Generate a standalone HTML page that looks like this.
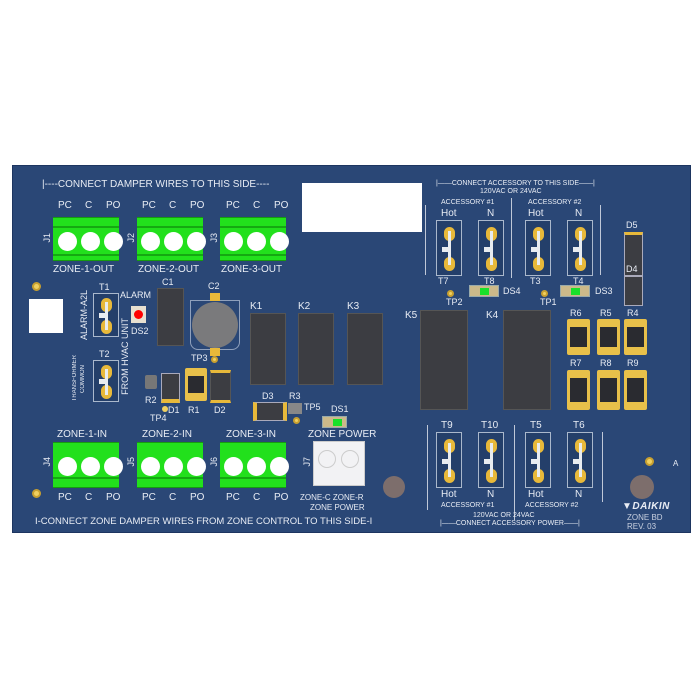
<!DOCTYPE html>
<html><head><meta charset="utf-8"><style>
*{margin:0;padding:0;box-sizing:border-box}
body{width:700px;height:700px;background:#fff;position:relative;overflow:hidden;font-family:"Liberation Sans",sans-serif}
.a{position:absolute}
#board{left:12px;top:165px;width:679px;height:368px;background:#2a4776;border:1px solid #1d3560}
.t{position:absolute;color:#e8ecf4;font-size:10px;white-space:nowrap;line-height:1}
.s{font-size:7px}
.v{writing-mode:vertical-rl;transform:rotate(180deg)}
.tb{position:absolute;width:66px;height:44px;background:#22e01c;border-top:1px solid #169a10;border-bottom:1px solid #169a10}
.tb i{position:absolute;width:19px;height:19px;border-radius:50%;background:#fff;top:14px}
.tb b{position:absolute;left:0;right:0;height:2px;background:#15a812}
.jp{position:absolute;width:26px;height:56px;border:1px solid #aab8cc;background:#243f6a}
.jp i{position:absolute;left:7px;width:11px;height:14px;border-radius:6px;background:#e8b93a}
.jp u{position:absolute;left:11px;top:10px;width:3px;height:34px;background:#e8ecf0}
.jp s{position:absolute;left:5px;top:26px;width:8px;height:5px;background:#e8ecf0}
.dk{position:absolute;background:#3c3d42;border:1px solid #555}
.rs{position:absolute;width:23px;height:42px;background:#e8c04a;border-radius:2px}
.rs:after{content:"";position:absolute;left:3px;right:3px;top:8px;bottom:8px;background:#2a2b30}
.dot{position:absolute;width:9px;height:9px;border-radius:50%;background:#f0d060;border:2px solid #c8a030}
.led{position:absolute;width:30px;height:12px;background:#cbb98a;border:1px solid #9aa}
.led:after{content:"";position:absolute;left:10px;top:2px;width:9px;height:7px;background:#19e02a}
</style></head><body>
<div id="board" class="a"></div>

<div class="t" style="left:42px;top:180px">|----CONNECT DAMPER WIRES TO THIS SIDE----</div>
<div class="a" style="left:302px;top:183px;width:120px;height:49px;background:#fff"></div>
<div class="a" style="left:29px;top:299px;width:34px;height:34px;background:#fff"></div>

<!-- top terminal blocks -->
<div class="t" style="left:58px;top:201px">PC</div><div class="t" style="left:85px;top:201px">C</div><div class="t" style="left:106px;top:201px">PO</div>
<div class="t" style="left:142px;top:201px">PC</div><div class="t" style="left:169px;top:201px">C</div><div class="t" style="left:190px;top:201px">PO</div>
<div class="t" style="left:226px;top:201px">PC</div><div class="t" style="left:253px;top:201px">C</div><div class="t" style="left:274px;top:201px">PO</div>
<div class="tb" style="left:53px;top:217px"><b style="top:8px"></b><b style="top:36px"></b><i style="left:5px"></i><i style="left:28px"></i><i style="left:51px"></i></div>
<div class="tb" style="left:137px;top:217px"><b style="top:8px"></b><b style="top:36px"></b><i style="left:4px"></i><i style="left:27px"></i><i style="left:50px"></i></div>
<div class="tb" style="left:220px;top:217px"><b style="top:8px"></b><b style="top:36px"></b><i style="left:4px"></i><i style="left:27px"></i><i style="left:50px"></i></div>
<div class="t v" style="left:43px;top:233px;font-size:9px">J1</div>
<div class="t v" style="left:127px;top:233px;font-size:9px">J2</div>
<div class="t v" style="left:210px;top:233px;font-size:9px">J3</div>
<div class="t" style="left:53px;top:265px">ZONE-1-OUT</div>
<div class="t" style="left:138px;top:265px">ZONE-2-OUT</div>
<div class="t" style="left:221px;top:265px">ZONE-3-OUT</div>

<div class="dot" style="left:32px;top:282px"></div>
<div class="dot" style="left:32px;top:489px"></div>
<div class="dot" style="left:645px;top:457px"></div>

<!-- T1 T2 -->
<div class="t" style="left:99px;top:283px;font-size:9px">T1</div>
<div class="jp" style="left:93px;top:293px;height:44px"><i style="top:4px"></i><i style="top:26px"></i><u style="top:8px;height:28px"></u><s style="top:19px"></s></div>
<div class="t" style="left:99px;top:350px;font-size:9px">T2</div>
<div class="jp" style="left:93px;top:360px;height:42px"><i style="top:4px"></i><i style="top:24px"></i><u style="top:8px;height:26px"></u><s style="top:18px"></s></div>
<div class="t v" style="left:80px;top:290px;font-size:9px">ALARM-A2L</div>
<div class="t v" style="left:121px;top:318px;font-size:9px">FROM HVAC UNIT</div>
<div class="t v" style="left:72px;top:355px;font-size:6px">TRANSFORMER</div>
<div class="t v" style="left:80px;top:365px;font-size:6px">COMMON</div>
<div class="t" style="left:120px;top:291px;font-size:9px">ALARM</div>
<div class="a" style="left:131px;top:306px;width:15px;height:17px;background:#e8e0d0"></div>
<div class="a" style="left:134px;top:310px;width:9px;height:9px;border-radius:50%;background:#f00"></div>
<div class="t" style="left:131px;top:327px;font-size:9px">DS2</div>

<div class="t" style="left:162px;top:278px;font-size:9px">C1</div>
<div class="dk" style="left:157px;top:288px;width:27px;height:58px"></div>
<div class="t" style="left:208px;top:282px;font-size:9px">C2</div>
<div class="a" style="left:190px;top:300px;width:50px;height:50px;border:1px solid #8fa0bc;border-radius:0 0 8px 8px"></div>
<div class="a" style="left:210px;top:293px;width:10px;height:8px;background:#e8b93a"></div>
<div class="a" style="left:210px;top:348px;width:10px;height:8px;background:#e8b93a"></div>
<div class="a" style="left:192px;top:302px;width:46px;height:46px;border-radius:50%;background:#7a7a7c"></div>
<div class="t" style="left:191px;top:354px;font-size:9px">TP3</div>
<div class="dot" style="left:211px;top:356px;width:7px;height:7px"></div>

<div class="t" style="left:250px;top:302px">K1</div>
<div class="t" style="left:298px;top:302px">K2</div>
<div class="t" style="left:347px;top:302px">K3</div>
<div class="dk" style="left:250px;top:313px;width:36px;height:72px"></div>
<div class="dk" style="left:298px;top:313px;width:36px;height:72px"></div>
<div class="dk" style="left:347px;top:313px;width:36px;height:72px"></div>

<!-- small parts -->
<div class="a" style="left:145px;top:375px;width:12px;height:14px;background:#777;border-radius:2px"></div>
<div class="t" style="left:145px;top:396px;font-size:9px">R2</div>
<div class="dk" style="left:161px;top:373px;width:19px;height:30px;border:1px solid #aab;border-bottom:4px solid #e8b93a"></div>
<div class="rs" style="left:185px;top:368px;width:22px;height:33px"></div>
<div class="dk" style="left:210px;top:370px;width:21px;height:33px;border-top:3px solid #e8b93a;border-bottom:3px solid #e8b93a"></div>
<div class="t" style="left:168px;top:406px;font-size:9px">D1</div>
<div class="t" style="left:188px;top:406px;font-size:9px">R1</div>
<div class="t" style="left:214px;top:406px;font-size:9px">D2</div>
<div class="t" style="left:150px;top:414px;font-size:9px">TP4</div>
<div class="dot" style="left:162px;top:406px;width:6px;height:6px;border:none"></div>
<div class="t" style="left:262px;top:392px;font-size:9px">D3</div>
<div class="dk" style="left:253px;top:402px;width:34px;height:19px;border:1px solid #aab;border-left:4px solid #e8b93a;border-right:4px solid #e8b93a"></div>
<div class="t" style="left:289px;top:392px;font-size:9px">R3</div>
<div class="a" style="left:288px;top:403px;width:14px;height:11px;background:#888"></div>
<div class="t" style="left:304px;top:403px;font-size:9px">TP5</div>
<div class="dot" style="left:293px;top:417px;width:7px;height:7px"></div>
<div class="t" style="left:331px;top:405px;font-size:9px">DS1</div>
<div class="led" style="left:322px;top:416px;width:25px"></div>
<div class="t" style="left:308px;top:430px">ZONE POWER</div>

<!-- bottom terminal blocks -->
<div class="t" style="left:57px;top:430px">ZONE-1-IN</div>
<div class="t" style="left:142px;top:430px">ZONE-2-IN</div>
<div class="t" style="left:226px;top:430px">ZONE-3-IN</div>
<div class="tb" style="left:53px;top:442px;height:46px"><b style="top:34px"></b><i style="left:5px"></i><i style="left:28px"></i><i style="left:51px"></i></div>
<div class="tb" style="left:137px;top:442px;height:46px"><b style="top:34px"></b><i style="left:4px"></i><i style="left:27px"></i><i style="left:50px"></i></div>
<div class="tb" style="left:220px;top:442px;height:46px"><b style="top:34px"></b><i style="left:4px"></i><i style="left:27px"></i><i style="left:50px"></i></div>
<div class="a" style="left:313px;top:441px;width:52px;height:45px;background:#f2f2f4;border:1px solid #ccc"></div>
<div class="a" style="left:318px;top:450px;width:18px;height:18px;border-radius:50%;border:1px solid #ccc"></div>
<div class="a" style="left:341px;top:450px;width:18px;height:18px;border-radius:50%;border:1px solid #ccc"></div>
<div class="t v" style="left:43px;top:457px;font-size:9px">J4</div>
<div class="t v" style="left:127px;top:457px;font-size:9px">J5</div>
<div class="t v" style="left:210px;top:457px;font-size:9px">J6</div>
<div class="t v" style="left:303px;top:457px;font-size:9px">J7</div>
<div class="t" style="left:58px;top:493px">PC</div><div class="t" style="left:85px;top:493px">C</div><div class="t" style="left:106px;top:493px">PO</div>
<div class="t" style="left:142px;top:493px">PC</div><div class="t" style="left:169px;top:493px">C</div><div class="t" style="left:190px;top:493px">PO</div>
<div class="t" style="left:226px;top:493px">PC</div><div class="t" style="left:253px;top:493px">C</div><div class="t" style="left:274px;top:493px">PO</div>
<div class="t" style="left:300px;top:494px;font-size:8px">ZONE-C ZONE-R</div>
<div class="t" style="left:310px;top:504px;font-size:8px">ZONE POWER</div>
<div class="t" style="left:35px;top:517px;font-size:9.5px">I-CONNECT ZONE DAMPER WIRES FROM ZONE CONTROL TO THIS SIDE-I</div>
<div class="a" style="left:383px;top:476px;width:22px;height:22px;border-radius:50%;background:#7d6e6c"></div>
<div class="a" style="left:630px;top:475px;width:24px;height:24px;border-radius:50%;background:#7d6e6c"></div>

<!-- right side -->
<div class="t s" style="left:436px;top:180px">|——CONNECT ACCESSORY TO THIS SIDE——|</div>
<div class="t s" style="left:480px;top:188px">120VAC OR 24VAC</div>
<div class="t s" style="left:441px;top:199px">ACCESSORY #1</div>
<div class="t s" style="left:528px;top:199px">ACCESSORY #2</div>
<div class="t" style="left:441px;top:209px">Hot</div><div class="t" style="left:487px;top:209px">N</div>
<div class="t" style="left:528px;top:209px">Hot</div><div class="t" style="left:575px;top:209px">N</div>
<div class="a" style="left:511px;top:198px;width:1px;height:80px;background:#c0c8d8"></div>
<div class="a" style="left:600px;top:205px;width:1px;height:70px;background:#c0c8d8"></div>
<div class="a" style="left:425px;top:205px;width:1px;height:70px;background:#c0c8d8"></div>
<div class="jp" style="left:436px;top:220px"><i style="top:6px"></i><i style="top:36px"></i><u></u><s></s></div>
<div class="jp" style="left:478px;top:220px"><i style="top:6px"></i><i style="top:36px"></i><u></u><s></s></div>
<div class="jp" style="left:525px;top:220px"><i style="top:6px"></i><i style="top:36px"></i><u></u><s></s></div>
<div class="jp" style="left:567px;top:220px"><i style="top:6px"></i><i style="top:36px"></i><u></u><s></s></div>
<div class="t" style="left:438px;top:277px;font-size:9px">T7</div>
<div class="t" style="left:484px;top:277px;font-size:9px">T8</div>
<div class="t" style="left:530px;top:277px;font-size:9px">T3</div>
<div class="t" style="left:573px;top:277px;font-size:9px">T4</div>
<div class="dot" style="left:447px;top:290px;width:7px;height:7px"></div>
<div class="dot" style="left:541px;top:290px;width:7px;height:7px"></div>
<div class="t" style="left:446px;top:298px;font-size:9px">TP2</div>
<div class="t" style="left:540px;top:298px;font-size:9px">TP1</div>
<div class="led" style="left:469px;top:285px"></div>
<div class="led" style="left:560px;top:285px"></div>
<div class="t" style="left:503px;top:287px;font-size:9px">DS4</div>
<div class="t" style="left:595px;top:287px;font-size:9px">DS3</div>
<div class="t" style="left:626px;top:221px;font-size:9px">D5</div>
<div class="dk" style="left:624px;top:232px;width:19px;height:44px;border:1px solid #aab;border-top:3px solid #e8b93a"></div>
<div class="t" style="left:626px;top:265px;font-size:9px">D4</div>
<div class="dk" style="left:624px;top:276px;width:19px;height:30px;border:1px solid #aab"></div>
<div class="t" style="left:570px;top:309px;font-size:9px">R6</div>
<div class="t" style="left:600px;top:309px;font-size:9px">R5</div>
<div class="t" style="left:627px;top:309px;font-size:9px">R4</div>
<div class="rs" style="left:567px;top:319px;height:36px"></div>
<div class="rs" style="left:597px;top:319px;height:36px"></div>
<div class="rs" style="left:624px;top:319px;height:36px"></div>
<div class="t" style="left:570px;top:359px;font-size:9px">R7</div>
<div class="t" style="left:600px;top:359px;font-size:9px">R8</div>
<div class="t" style="left:627px;top:359px;font-size:9px">R9</div>
<div class="rs" style="left:567px;top:370px;height:40px"></div>
<div class="rs" style="left:597px;top:370px;height:40px"></div>
<div class="rs" style="left:624px;top:370px;height:40px"></div>
<div class="t" style="left:405px;top:311px">K5</div>
<div class="t" style="left:486px;top:311px">K4</div>
<div class="dk" style="left:420px;top:310px;width:48px;height:100px"></div>
<div class="dk" style="left:503px;top:310px;width:48px;height:100px"></div>

<div class="t" style="left:441px;top:421px">T9</div><div class="t" style="left:481px;top:421px">T10</div>
<div class="t" style="left:530px;top:421px">T5</div><div class="t" style="left:573px;top:421px">T6</div>
<div class="jp" style="left:436px;top:432px"><i style="top:6px"></i><i style="top:36px"></i><u></u><s></s></div>
<div class="jp" style="left:478px;top:432px"><i style="top:6px"></i><i style="top:36px"></i><u></u><s></s></div>
<div class="jp" style="left:525px;top:432px"><i style="top:6px"></i><i style="top:36px"></i><u></u><s></s></div>
<div class="jp" style="left:567px;top:432px"><i style="top:6px"></i><i style="top:36px"></i><u></u><s></s></div>
<div class="a" style="left:427px;top:425px;width:1px;height:85px;background:#c0c8d8"></div>
<div class="a" style="left:514px;top:425px;width:1px;height:95px;background:#c0c8d8"></div>
<div class="a" style="left:602px;top:432px;width:1px;height:70px;background:#c0c8d8"></div>
<div class="t" style="left:441px;top:490px">Hot</div><div class="t" style="left:487px;top:490px">N</div>
<div class="t" style="left:528px;top:490px">Hot</div><div class="t" style="left:575px;top:490px">N</div>
<div class="t s" style="left:441px;top:502px">ACCESSORY #1</div>
<div class="t s" style="left:525px;top:502px">ACCESSORY #2</div>
<div class="t s" style="left:473px;top:512px">120VAC OR 24VAC</div>
<div class="t s" style="left:440px;top:520px">|——CONNECT ACCESSORY POWER——|</div>
<div class="t" style="left:673px;top:460px;font-size:8px">A</div>
<div class="t" style="left:622px;top:502px;font-size:10px;font-weight:bold;font-style:italic;letter-spacing:0.5px">▼DAIKIN</div>
<div class="t" style="left:627px;top:514px;font-size:8px;color:#c8d0e0">ZONE BD</div>
<div class="t" style="left:627px;top:523px;font-size:8px;color:#c8d0e0">REV. 03</div>
</body></html>
